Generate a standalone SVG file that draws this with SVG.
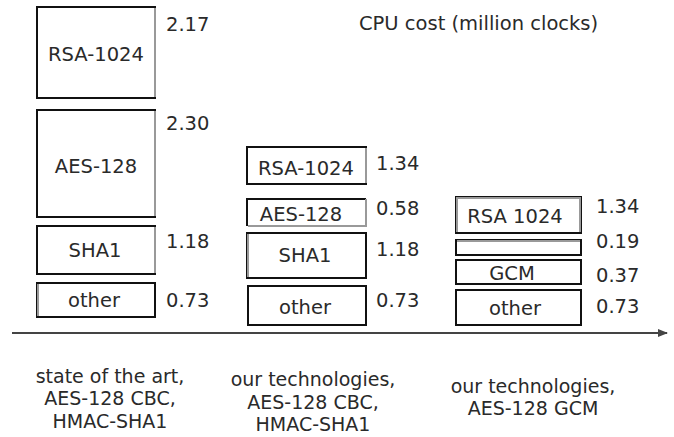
<svg xmlns="http://www.w3.org/2000/svg" width="674" height="437" viewBox="0 0 674 437">
<style>
.box{fill:#fff;stroke:#111;stroke-width:2}
.hl{fill:none;stroke:#999;stroke-width:2}
.t{font-family:"DejaVu Sans",Verdana,sans-serif;font-size:19.5px;fill:#2a2a2a}
.c{text-anchor:middle}
.v{font-family:"DejaVu Sans",Verdana,sans-serif;font-size:19.5px;fill:#2a2a2a}
.b{font-family:"DejaVu Sans",Verdana,sans-serif;font-size:19px;fill:#2a2a2a;text-anchor:middle}
.axis{stroke:#444;stroke-width:2;fill:none}
</style>
<defs>
<marker id="arr" viewBox="0 0 10 10" refX="9" refY="5" markerWidth="10" markerHeight="10" markerUnits="userSpaceOnUse" orient="auto">
<path d="M0,1 L10,5 L0,9 Z" fill="#444"/>
</marker>
</defs>
<rect width="674" height="437" fill="#fff"/>
<text class="v" x="359" y="30">CPU cost (million clocks)</text>
<g id="connectors">
<line class="axis" x1="12" y1="333" x2="667" y2="333" marker-end="url(#arr)"/>
</g>
<g id="col1-rsa">
<rect class="box" x="37" y="7" width="118" height="91"/>
<line class="hl" x1="155" y1="8" x2="155" y2="97"/>
<text class="t c" x="96" y="61">RSA-1024</text>
<text class="v" x="166" y="31">2.17</text>
</g>
<g id="col1-aes">
<rect class="box" x="37" y="110" width="118" height="107"/>
<line class="hl" x1="155" y1="111" x2="155" y2="216"/>
<text class="t c" x="96" y="173">AES-128</text>
<text class="v" x="166" y="130">2.30</text>
</g>
<g id="col1-sha1">
<rect class="box" x="37" y="226" width="118" height="48"/>
<line class="hl" x1="155" y1="227" x2="155" y2="273"/>
<text class="t c" x="95" y="257">SHA1</text>
<text class="v" x="166" y="248">1.18</text>
</g>
<g id="col1-other">
<rect class="box" x="37" y="283" width="118" height="34"/>
<line class="hl" x1="38" y1="284" x2="38" y2="316"/>
<text class="t c" x="94" y="307">other</text>
<text class="v" x="166" y="307">0.73</text>
</g>
<g id="col2-rsa">
<rect class="box" x="247" y="147" width="119" height="37"/>
<line class="hl" x1="366" y1="148" x2="366" y2="183"/>
<text class="t c" x="306" y="175">RSA-1024</text>
<text class="v" x="376" y="170">1.34</text>
</g>
<g id="col2-aes">
<path d="M247,226 V199 H366" fill="none" stroke="#111" stroke-width="2"/>
<path class="hl" d="M366,199 V226 H248"/>
<text class="t c" x="301" y="221">AES-128</text>
<text class="v" x="376" y="215">0.58</text>
</g>
<g id="col2-sha1">
<rect class="box" x="247" y="233" width="119" height="45"/>
<line class="hl" x1="248" y1="234" x2="248" y2="277"/>
<text class="t c" x="305" y="262">SHA1</text>
<text class="v" x="376" y="256">1.18</text>
</g>
<g id="col2-other">
<rect class="box" x="248" y="286" width="118" height="39"/>
<text class="t c" x="305" y="314">other</text>
<text class="v" x="376" y="307">0.73</text>
</g>
<g id="col3-rsa">
<rect class="box" x="456" y="197" width="125" height="36"/>
<path class="hl" d="M457,232 V198 H580 V232"/>
<text class="t c" x="515" y="223">RSA 1024</text>
<text class="v" x="596" y="213">1.34</text>
</g>
<g id="col3-blank">
<rect class="box" x="456" y="240" width="125" height="15"/>
<line class="hl" x1="457" y1="241" x2="580" y2="241"/>
<text class="v" x="596" y="248">0.19</text>
</g>
<g id="col3-gcm">
<rect class="box" x="456" y="260" width="125" height="24"/>
<text class="t c" x="512" y="280">GCM</text>
<text class="v" x="596" y="282">0.37</text>
</g>
<g id="col3-other">
<rect class="box" x="456" y="290" width="125" height="35"/>
<text class="t c" x="515" y="315">other</text>
<text class="v" x="596" y="313">0.73</text>
</g>
<g id="label1">
<text class="b" x="110" y="383">state of the art,</text>
<text class="b" x="110" y="405">AES-128 CBC,</text>
<text class="b" x="110" y="428">HMAC-SHA1</text>
</g>
<g id="label2">
<text class="b" x="313" y="386">our technologies,</text>
<text class="b" x="313" y="409">AES-128 CBC,</text>
<text class="b" x="313" y="431">HMAC-SHA1</text>
</g>
<g id="label3">
<text class="b" x="533" y="393">our technologies,</text>
<text class="b" x="533" y="415">AES-128 GCM</text>
</g>
</svg>
